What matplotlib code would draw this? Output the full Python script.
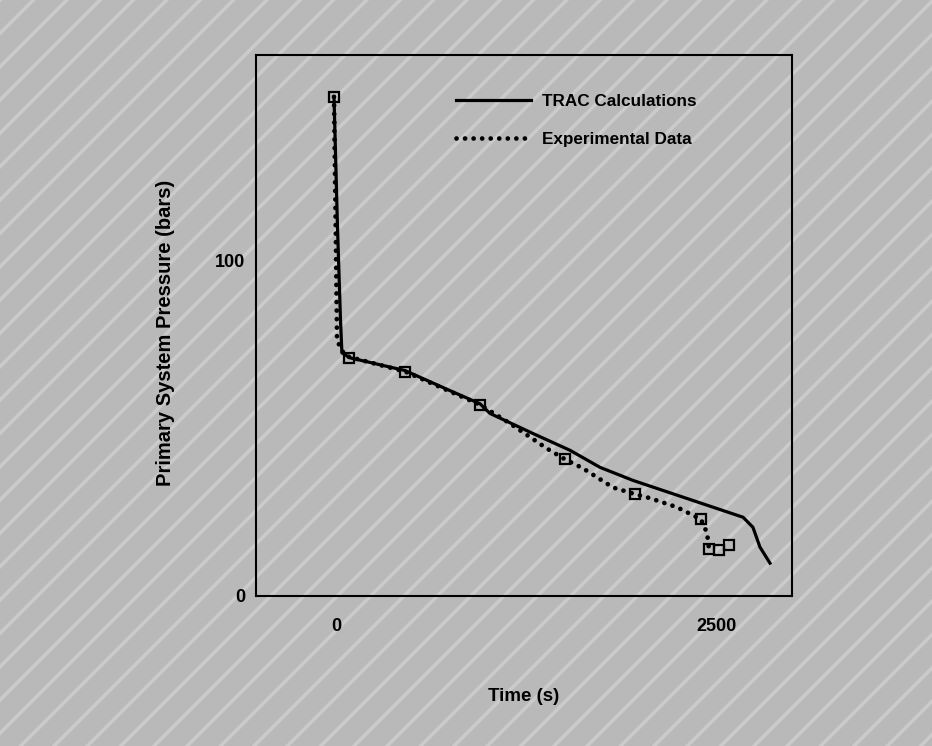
import matplotlib
matplotlib.use("Agg")
import matplotlib.pyplot as plt
from matplotlib.patches import Rectangle

plt.rcParams["font.family"] = ["Liberation Sans", "DejaVu Sans"]
plt.rcParams["font.weight"] = "bold"
plt.rcParams["hatch.linewidth"] = 2.5

# TRAC calculation curve (time s, pressure bars)
trac_time = [-13, 10, 30, 39, 92, 454, 750, 947, 1013, 1296, 1539, 1737, 1954, 2283, 2678, 2743, 2789, 2855]
trac_pres = [149, 110, 82, 72.6, 71.1, 67.3, 61.3, 57.4, 54.5, 48.5, 43.5, 38.4, 34.5, 29.5, 23.5, 20.5, 14.6, 9.8]

# Experimental data (dotted trace)
exp_time = [-13, 0, 7, 59, 454, 947, 1145, 1388, 1507, 1625, 1822, 1967, 2066, 2243, 2401, 2441, 2454]
exp_pres = [149, 103, 76.2, 71.7, 67.0, 57.1, 51.5, 44.0, 40.8, 38.1, 32.4, 30.4, 29.2, 26.5, 22.9, 18.8, 14.0]

# Experimental measurement points (open squares)
sq_time = [-13, 86, 454, 947, 1507, 1967, 2401, 2454, 2520, 2586]
sq_pres = [149, 71.0, 67.0, 57.0, 40.8, 30.4, 22.9, 14.0, 13.7, 15.2]

fig = plt.figure(figsize=(9.32, 7.46), dpi=100)
fig.patch.set_facecolor("#b9b9b9")
fig.patches.append(Rectangle((0, 0), 1, 1, transform=fig.transFigure,
                             facecolor="none", edgecolor="#cbcbcb",
                             hatch="/", linewidth=0, zorder=-10))

ax = fig.add_axes([0.2747, 0.2011, 0.5751, 0.7252])
ax.set_facecolor("none")

ax.plot(trac_time, trac_pres, color="black", lw=2.3, label="TRAC Calculations")
ax.plot(exp_time, exp_pres, color="black", lw=3.4, linestyle=(0, (0.01, 1.8)),
        dash_capstyle="round", label="Experimental Data")
ax.plot(sq_time, sq_pres, linestyle="none", marker="s", ms=7,
        mfc="none", mec="black", mew=1.6)

ax.set_xlim(-526, 3000)
ax.set_ylim(0, 161.5)
ax.set_xticks([0, 2500])
ax.set_xticklabels(["0", "2500"])
ax.set_yticks([0, 100])
ax.set_yticklabels(["0", "100"])
ax.tick_params(axis="both", length=0, labelsize=13)
ax.tick_params(axis="x", pad=16)
ax.tick_params(axis="y", pad=8)
for s in ax.spines.values():
    s.set_linewidth(1.5)

ax.set_xlabel("Time (s)", fontsize=13.5, fontweight="bold")
ax.xaxis.set_label_coords(0.5, -0.17)
ax.set_ylabel("Primary System Pressure (bars)", fontsize=14.5, fontweight="bold")
ax.yaxis.set_label_coords(-0.151, 0.486)

leg = ax.legend(loc="upper left", bbox_to_anchor=(0.345, 0.957), frameon=False,
                fontsize=12.3, handlelength=4.4, handletextpad=0.6, labelspacing=1.35)

fig.savefig("out.png", dpi=100, facecolor=fig.get_facecolor())
